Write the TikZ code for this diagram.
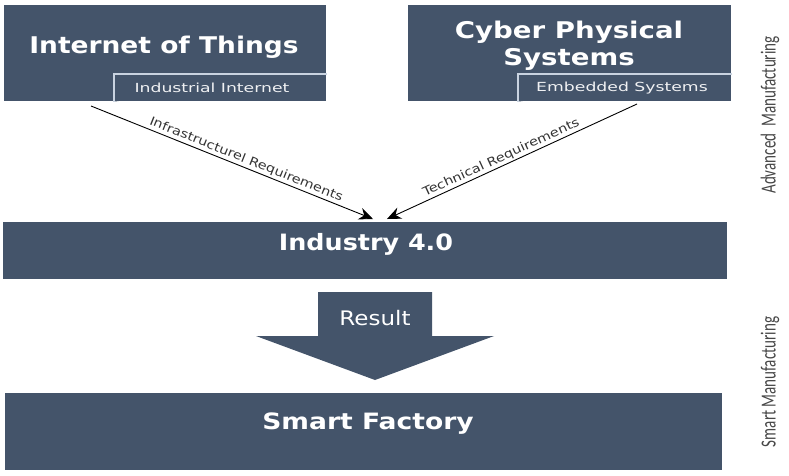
\documentclass[tikz,border=0pt]{standalone}
\usepackage{fontspec}
\setmainfont{DejaVu Sans}
\newfontfamily\carl{Carlito}
\usetikzlibrary{arrows.meta}
\definecolor{boxblue}{HTML}{44546A}
\definecolor{edgeblue}{HTML}{C9D3E0}
\tikzset{
  bigbox/.style={fill=boxblue,draw=none},
  subbox/.style={fill=boxblue,draw=edgeblue,line width=1.2pt},
  conn/.style={draw=black,line width=0.9pt,-{Stealth[length=14pt,width=12pt]}},
  toptxt/.style={text=white,font=\fontsize{23}{27}\selectfont\bfseries,align=center},
  subtxt/.style={text=white!92!boxblue,font=\fontsize{12.5}{14}\selectfont},
  midtxt/.style={text=white,font=\fontsize{22.5}{26}\selectfont\bfseries},
  lbl/.style={font=\fontsize{12}{14}\selectfont,text=black!80,sloped,above,inner sep=1.5pt},
  sidetxt/.style={font=\carl\fontsize{21.5}{24}\selectfont,text=black!72,rotate=90}
}
\newcommand{\wide}[2]{\scalebox{#1}[1]{#2}}
\begin{document}
\begin{tikzpicture}[x=1pt,y=-1pt]
\useasboundingbox (0,0) rectangle (789,475);
% top boxes
\path[bigbox] (4,5) rectangle (326,101);
\node[toptxt] (iot) at (164,47) {\wide{1.15}{Internet of Things}};
\path[subbox] (114,101.6) -- (114,74) -- (327,74);
\path[fill=boxblue] (114.6,74.6) rectangle (326,101);
\node[subtxt] (ii) at (212,88) {\wide{1.38}{Industrial Internet}};

\path[bigbox] (408,5) rectangle (731,101);
\node[toptxt] (cps) at (569,46) {\wide{1.2}{Cyber Physical}\\\wide{1.2}{Systems}};
\path[subbox] (518,101.6) -- (518,74) -- (732,74);
\path[fill=boxblue] (518.6,74.6) rectangle (731,101);
\node[subtxt] (es) at (622,88) {\wide{1.38}{Embedded Systems}};

% industry 4.0
\path[bigbox] (3,222) rectangle (727,279);
\node[midtxt] (ind) at (366,244) {\wide{1.13}{Industry 4.0}};

% result arrow
\path[bigbox] (318,292) -- (432,292) -- (432,336) -- (494,336) -- (375,380) -- (256,336) -- (318,336) -- cycle;
\node[text=white,font=\fontsize{20}{22}\selectfont] (res) at (375,318) {\wide{1.15}{Result}};

% smart factory
\path[bigbox] (5,393) rectangle (722,470);
\node[midtxt] (sf) at (368,424) {\wide{1.18}{Smart Factory}};

% connectors
\coordinate (a1) at (91,106);
\coordinate (a2) at (373,219);
\coordinate (b1) at (637,104);
\coordinate (b2) at (387,219);
\draw[conn] (a1) -- node[lbl,pos=0.54] {\wide{1.2}{Infrastructurel Requirements}} (a2);
\draw[conn] (b1) -- node[lbl,pos=0.53] {\wide{1.2}{Technical Requirements}} (b2);

% side labels
\node[sidetxt] (am) at (770,115) {\wide{0.7}{Advanced\ \ Manufacturing}};
\node[sidetxt] (sm) at (770,382) {\wide{0.7}{Smart Manufacturing}};
\end{tikzpicture}
\end{document}
